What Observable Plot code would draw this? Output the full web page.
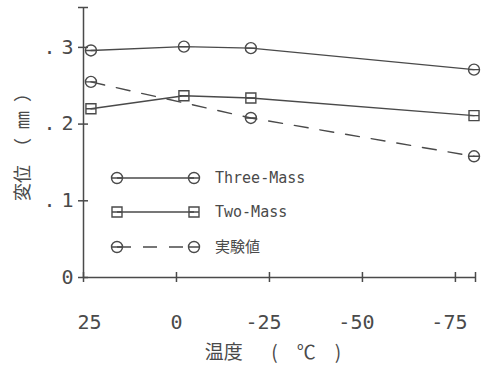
<!DOCTYPE html>
<html><head><meta charset="utf-8">
<script src="https://cdn.jsdelivr.net/npm/d3@7"></script>
<script src="https://cdn.jsdelivr.net/npm/@observablehq/plot@0.6"></script>
<style>
body{margin:0;background:#fff;}
#wrap{position:relative;width:483px;height:366px;}
#wrap svg.leg{position:absolute;left:0;top:0;}
</style></head><body><div id="wrap"></div>
<script>
const seriesNames = ["Three-Mass", "Two-Mass", "実験値"];
const tempsModel = [23, -2, -20, -80];
const tempsExp = [23, -20, -80];
const threeMass = [0.296, 0.301, 0.299, 0.271];
const twoMass = [0.220, 0.237, 0.234, 0.211];
const experiment = [0.255, 0.208, 0.158];
const xTicks = [25, 0, -25, -50, -75];
const xTickLabels = ["\u00A025", "0", "-25\u00A0", "-50\u00A0", "-75\u00A0"];
const yTicks = [0, 0.1, 0.2, 0.3];
const yTickLabels = ["0", ". 1", ". 2", ". 3"];
const xTitle = "温度\u3000\u2002(\u2002\u2002℃\u2002\u2002)";
const yTitle = "変位\u3000（\u2002㎜\u2002）";
const xDomain = [25, -80.4];
const yDomain = [0, 0.352];

const ink = "#4a4a4a";
const font = "'DejaVu Sans Mono', monospace";
const cjk = "'Noto Sans CJK JP', sans-serif";

const circleSym = {draw(ctx, size) {const r = Math.sqrt(size / Math.PI); ctx.moveTo(r, 0); ctx.arc(0, 0, r, 0, 2 * Math.PI); ctx.moveTo(-r, 0); ctx.lineTo(r, 0);}};
const squareSym = {draw(ctx, size) {const s = Math.sqrt(size / Math.PI); ctx.rect(-s, -s, 2 * s, 2 * s); ctx.moveTo(-s, 0); ctx.lineTo(s, 0);}};

const rows3 = tempsModel.map((t, i) => ({t, v: threeMass[i]}));
const rows2 = tempsModel.map((t, i) => ({t, v: twoMass[i]}));
const rowsE = tempsExp.map((t, i) => ({t, v: experiment[i]}));

const chart = Plot.plot({
  width: 483, height: 366,
  marginLeft: 83, marginRight: 8, marginTop: 7, marginBottom: 89,
  style: {fontFamily: font, color: ink, background: "#fff"},
  x: {domain: xDomain},
  y: {domain: yDomain},
  marks: [
    Plot.ruleX([xDomain[0]], {stroke: ink, strokeWidth: 1.5}),
    Plot.ruleY([0], {stroke: ink, strokeWidth: 1.5}),
    Plot.axisY([...yTicks, yDomain[1]], {tickSize: 10, dx: 5, tickFormat: () => "", label: null, stroke: ink, strokeWidth: 1.5}),
    Plot.axisX([...xTicks, xDomain[1]], {tickSize: 10, dy: -5, tickFormat: () => "", label: null, stroke: ink, strokeWidth: 1.5}),
    Plot.axisY(yTicks, {tickSize: 0, tickPadding: 13, tickFormat: d => yTickLabels[yTicks.indexOf(d)], fontSize: 20, fill: ink, label: null}),
    Plot.axisX(xTicks, {tickSize: 0, tickPadding: 37, tickFormat: d => xTickLabels[xTicks.indexOf(d)], fontSize: 20, fill: ink, label: null}),
    Plot.text([yTitle], {frameAnchor: "left", textAnchor: "middle", lineAnchor: "middle", dx: -60, rotate: -90, fontSize: 18, fontFamily: cjk, fill: ink}),
    Plot.text([xTitle], {frameAnchor: "bottom", textAnchor: "middle", lineAnchor: "middle", dx: -6.5, dy: 75, fontSize: 19, fontFamily: cjk, fill: ink}),
    Plot.line(rows3, {x: "t", y: "v", stroke: ink, strokeWidth: 1.4}),
    Plot.line(rows2, {x: "t", y: "v", stroke: ink, strokeWidth: 1.4}),
    Plot.line(rowsE, {x: "t", y: "v", stroke: ink, strokeWidth: 1.4, strokeDasharray: "14,12"}),
    Plot.dot(rows3, {x: "t", y: "v", symbol: circleSym, r: 5.5, stroke: ink, fill: "none", strokeWidth: 1.4}),
    Plot.dot(rows2, {x: "t", y: "v", symbol: squareSym, r: 5, stroke: ink, fill: "none", strokeWidth: 1.4}),
    Plot.dot(rowsE, {x: "t", y: "v", symbol: circleSym, r: 5.5, stroke: ink, fill: "none", strokeWidth: 1.4})
  ]
});
const wrap = document.getElementById("wrap");
wrap.appendChild(chart);
d3.select(chart).selectAll("g[aria-label='y-axis tick label'] text").style("letter-spacing", "-3px");

// legend overlay
const leg = d3.select(wrap).append("svg").attr("class", "leg").attr("width", 483).attr("height", 366);
const syms = [circleSym, squareSym, circleSym];
const dashes = [null, null, "14,12"];
const rowY = [178, 212, 247];
seriesNames.forEach((name, i) => {
  const g = leg.append("g").attr("transform", `translate(0,${rowY[i]})`);
  g.append("line").attr("x1", 117).attr("x2", 194).attr("stroke", ink).attr("stroke-width", 1.4).attr("stroke-dasharray", dashes[i]);
  const p = d3.path(); syms[i].draw(p, (i === 1 ? 25 : 30.25) * Math.PI);
  [117, 194].forEach(x => g.append("path").attr("d", p.toString()).attr("transform", `translate(${x},0)`).attr("fill", "none").attr("stroke", ink).attr("stroke-width", 1.4));
  g.append("text").attr("x", 215).attr("y", 5).attr("font-size", 15).attr("fill", ink)
    .attr("font-family", i === 2 ? cjk : font).text(name);
});
</script></body></html>
